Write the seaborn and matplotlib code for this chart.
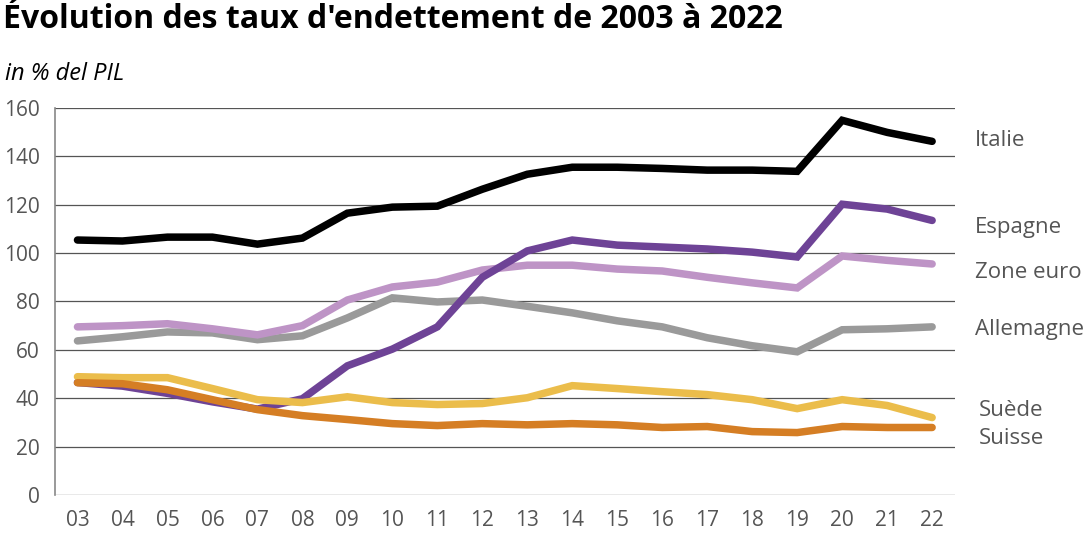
import matplotlib
matplotlib.use("Agg")
import matplotlib.pyplot as plt
import pandas as pd
import seaborn as sns

# données (en % du PIB)
annees = ["03", "04", "05", "06", "07", "08", "09", "10", "11", "12",
          "13", "14", "15", "16", "17", "18", "19", "20", "21", "22"]
italie = [105.4, 105.0, 106.6, 106.6, 103.7, 106.2, 116.5, 119.0, 119.4, 126.4,
          132.6, 135.5, 135.5, 135.0, 134.3, 134.3, 133.8, 154.9, 149.9, 146.2]
espagne = [46.5, 45.0, 42.0, 38.5, 35.5, 39.8, 53.4, 60.3, 69.5, 90.0,
           100.9, 105.4, 103.3, 102.5, 101.7, 100.4, 98.4, 120.2, 118.2, 113.5]
zone_euro = [69.5, 70.0, 70.8, 68.7, 66.2, 70.0, 80.6, 86.0, 88.0, 93.0,
             95.0, 95.0, 93.4, 92.6, 90.0, 87.7, 85.6, 98.8, 97.0, 95.5]
allemagne = [63.7, 65.4, 67.4, 67.0, 64.2, 65.8, 73.2, 81.5, 79.8, 80.6,
             78.0, 75.3, 72.0, 69.5, 65.0, 61.7, 59.2, 68.3, 68.7, 69.5]
suede = [48.9, 48.5, 48.5, 44.0, 39.4, 38.2, 40.6, 38.2, 37.4, 37.8,
         40.2, 45.2, 44.0, 42.7, 41.5, 39.4, 35.7, 39.4, 37.0, 32.0]
suisse = [46.4, 46.0, 43.5, 39.4, 35.3, 32.8, 31.2, 29.5, 28.7, 29.5,
          29.0, 29.5, 29.0, 27.9, 28.3, 26.2, 25.8, 28.3, 27.9, 27.9]

series = {
    "Allemagne": allemagne,
    "Zone euro": zone_euro,
    "Espagne": espagne,
    "Suède": suede,
    "Suisse": suisse,
    "Italie": italie,
}
couleurs = {
    "Italie": "#000000",
    "Espagne": "#6E4396",
    "Zone euro": "#BE94C6",
    "Allemagne": "#9A9A9A",
    "Suède": "#EBBD4B",
    "Suisse": "#D57E24",
}

rows = []
for pays, vals in series.items():
    for i, v in enumerate(vals):
        rows.append({"pos": i, "annee": annees[i], "pays": pays, "taux": v})
df = pd.DataFrame(rows)

sns.set_theme(style="white")
plt.rcParams["font.family"] = ["Open Sans", "DejaVu Sans"]

fig = plt.figure(figsize=(10.91, 5.35), dpi=100)
ax = fig.add_axes([0.0504, 0.0748, 0.8246, 0.7234])

sns.lineplot(data=df, x="pos", y="taux", hue="pays", palette=couleurs,
             hue_order=list(series.keys()), linewidth=5.4, legend=False,
             ax=ax, solid_joinstyle="miter")

ax.set_xlim(-0.5, len(annees) - 0.5)
ax.set_ylim(0, 160)
ax.set_yticks(range(0, 161, 20))
ax.set_xticks(range(len(annees)))
ax.set_xticklabels(annees)
ax.yaxis.grid(True, color="#555555", linewidth=0.9)
ax.set_axisbelow(True)
for s in ["top", "right", "bottom"]:
    ax.spines[s].set_visible(False)
ax.spines["left"].set_color("#888888")
ax.spines["left"].set_linewidth(1.2)
ax.tick_params(axis="both", length=0, labelsize=15, labelcolor="#555555")
ax.tick_params(axis="y", pad=11)
ax.tick_params(axis="x", pad=11)
ax.set_xlabel("")
ax.set_ylabel("")

# étiquettes à droite
etiquettes = [("Italie", 146.7, 19.95), ("Espagne", 110.5, 19.95),
              ("Zone euro", 92.0, 19.95), ("Allemagne", 68.6, 19.95),
              ("Suède", 35.0, 20.03), ("Suisse", 23.5, 20.03)]
for nom, yv, xv in etiquettes:
    ax.text(xv, yv, nom, fontsize=16, color="#555555", va="center",
            ha="left", clip_on=False)

fig.text(0.003, 0.964, "Évolution des taux d'endettement de 2003 à 2022",
         fontsize=23, fontweight="bold", color="#000000", va="center")
fig.text(0.005, 0.862, "in % del PIL", fontsize=17, style="italic",
         color="#000000", va="center")

fig.savefig("out.png", dpi=100)
